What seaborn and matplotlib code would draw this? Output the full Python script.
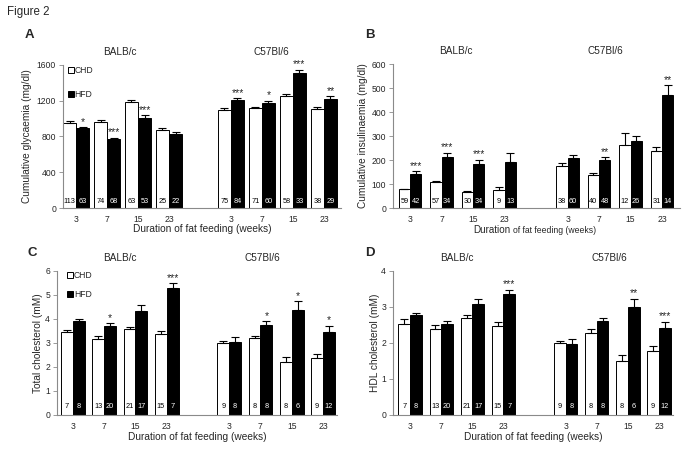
import matplotlib
matplotlib.use("Agg")
import matplotlib.pyplot as plt
import matplotlib.transforms as mtrans
from matplotlib.lines import Line2D
import seaborn as sns
import pandas as pd
import numpy as np

# ---------------- data ----------------
weeks = ["3", "7", "15", "23"]
strains = ["BALB/c", "C57Bl/6"]
diets = ["CHD", "HFD"]

# Panel A - cumulative glycaemia
glyc_chd = [955, 965, 1190, 870, 1100, 1120, 1255, 1110]
glyc_chd_err = [15, 15, 20, 25, 15, 10, 20, 25]
glyc_hfd = [890, 770, 1010, 830, 1210, 1175, 1510, 1215]
glyc_hfd_err = [15, 15, 25, 20, 20, 25, 35, 35]
glyc_n_chd = [113, 74, 63, 25, 75, 71, 58, 38]
glyc_n_hfd = [63, 68, 53, 22, 84, 60, 33, 29]
glyc_sig = ["*", "***", "***", "", "***", "*", "***", "**"]

# Panel B - cumulative insulinaemia
ins_chd = [78, 107, 65, 74, 176, 136, 264, 236]
ins_chd_err = [3, 4, 5, 12, 12, 10, 48, 20]
ins_hfd = [143, 212, 183, 190, 207, 199, 278, 469]
ins_hfd_err = [10, 18, 18, 38, 13, 13, 23, 42]
ins_n_chd = [59, 57, 30, 9, 38, 40, 12, 31]
ins_n_hfd = [42, 34, 34, 13, 60, 48, 26, 14]
ins_sig = ["***", "***", "***", "", "", "**", "", "**"]

# Panel C - total cholesterol
tc_chd = [3.44, 3.17, 3.58, 3.37, 2.99, 3.20, 2.22, 2.39]
tc_chd_err = [0.12, 0.13, 0.08, 0.11, 0.10, 0.08, 0.18, 0.14]
tc_hfd = [3.92, 3.72, 4.35, 5.28, 3.06, 3.76, 4.37, 3.47]
tc_hfd_err = [0.10, 0.10, 0.22, 0.20, 0.20, 0.15, 0.37, 0.24]
chol_n_chd = [7, 13, 21, 15, 9, 8, 8, 9]
chol_n_hfd = [8, 20, 17, 7, 8, 8, 6, 12]
tc_sig = ["", "*", "", "***", "", "*", "*", "*"]

# Panel D - HDL cholesterol
hdl_chd = [2.52, 2.39, 2.70, 2.48, 2.00, 2.29, 1.51, 1.78]
hdl_chd_err = [0.14, 0.10, 0.08, 0.09, 0.06, 0.09, 0.16, 0.14]
hdl_hfd = [2.77, 2.52, 3.08, 3.37, 1.98, 2.61, 3.01, 2.43]
hdl_hfd_err = [0.07, 0.08, 0.15, 0.11, 0.14, 0.08, 0.22, 0.16]
hdl_sig = ["", "", "", "***", "", "", "**", "***"]

# ---------------- style ----------------
sns.set_theme(style="white")
plt.rcParams["font.family"] = ["Liberation Sans", "DejaVu Sans"]
SPINE = "#8a8a8a"

fig = plt.figure(figsize=(6.83, 4.5), dpi=100)

slots = [f"{s} {w}" for s in strains for w in weeks]
order = slots[:4] + ["gap"] + slots[4:]
slot_pos = [order.index(s) for s in slots]


def panel(rect, chd, chd_err, hfd, hfd_err, n_chd, n_hfd, sig, ylim, yticks,
          xlim, width, ylabel, ylab_x, strain_x, legend=None, nlab_y=0.045):
    ax = fig.add_axes(rect)
    df = pd.DataFrame({
        "slot": slots * 2,
        "diet": ["CHD"] * 8 + ["HFD"] * 8,
        "value": list(chd) + list(hfd),
    })
    sns.barplot(data=df, x="slot", y="value", hue="diet", order=order,
                hue_order=diets, palette={"CHD": "white", "HFD": "black"},
                edgecolor="black", linewidth=0.7, width=width, errorbar=None,
                saturation=1, legend=False, ax=ax)
    pos = np.array(slot_pos, dtype=float)
    xc = pos - width / 4
    xh = pos + width / 4
    z = np.zeros(8)
    ax.errorbar(xc, chd, yerr=[z, chd_err], fmt="none", ecolor="black",
                elinewidth=0.8, capsize=3, capthick=0.8)
    ax.errorbar(xh, hfd, yerr=[z, hfd_err], fmt="none", ecolor="black",
                elinewidth=0.8, capsize=3, capthick=0.8)
    bt = mtrans.blended_transform_factory(ax.transData, ax.transAxes)
    for i in range(8):
        ax.text(xc[i], nlab_y, str(n_chd[i]), transform=bt, ha="center",
                va="center", fontsize=5.3, color="black")
        ax.text(xh[i], nlab_y, str(n_hfd[i]), transform=bt, ha="center",
                va="center", fontsize=5.3, color="white")
        if sig[i]:
            ax.annotate(sig[i], xy=(xh[i], hfd[i] + hfd_err[i]),
                        xytext=(0, 0.3), textcoords="offset points",
                        ha="center", va="bottom", fontsize=7.5)
    for s, x in zip(strains, strain_x):
        ax.text(x, 1.09, s, transform=bt, ha="center", va="center",
                fontsize=7.2)
    ax.set_ylim(*ylim)
    ax.set_yticks(yticks)
    ax.set_xlim(*xlim)
    ax.set_xticks(range(len(order)))
    ax.set_xticklabels(weeks + [""] + weeks)
    ax.tick_params(axis="x", length=0, labelsize=6.2, pad=5)
    ax.tick_params(axis="y", length=3, width=0.6, color=SPINE, labelsize=6.2,
                   pad=2, left=True)
    for side in ("top", "right"):
        ax.spines[side].set_visible(False)
    for side in ("left", "bottom"):
        ax.spines[side].set_color(SPINE)
        ax.spines[side].set_linewidth(0.8)
    ax.set_ylabel(ylabel, fontsize=7.3)
    ax.yaxis.set_label_coords(ylab_x, 0.5)
    ax.set_xlabel("")
    if legend is not None:
        h = [Line2D([], [], marker="s", linestyle="", markersize=4.5,
                    markerfacecolor=c, markeredgecolor="black",
                    markeredgewidth=0.7) for c in ("white", "black")]
        ax.legend(h, diets, loc="upper left", bbox_to_anchor=legend[0],
                  frameon=False, fontsize=6.2, handlelength=0.5,
                  handletextpad=0.15, labelspacing=legend[1], borderpad=0,
                  borderaxespad=0)
    return ax


axA = panel([63 / 683, 1 - 208 / 450, 278 / 683, 143 / 450],
            glyc_chd, glyc_chd_err, glyc_hfd, glyc_hfd_err,
            glyc_n_chd, glyc_n_hfd, glyc_sig, (0, 1600), [0, 400, 800, 1200, 1600],
            (-0.42, 8.55), 0.84, "Cumulative glycaemia (mg/dl)", -0.11,
            (1.42, 6.3), legend=((0.02, 0.99), 1.7))
axA.set_xlabel("Duration of fat feeding (weeks)", fontsize=7.3)
axA.xaxis.set_label_coords(0.5, -0.115)

axB = panel([393 / 683, 1 - 208 / 450, 287 / 683, 144 / 450],
            ins_chd, ins_chd_err, ins_hfd, ins_hfd_err,
            ins_n_chd, ins_n_hfd, ins_sig, (0, 600), list(range(0, 601, 100)),
            (-0.54, 8.57), 0.72, "Cumulative insulinaemia (mg/dl)", -0.087,
            (1.46, 6.2))
fig.text(510 / 683, 1 - 233.5 / 450, "Duration", ha="right", va="baseline",
         fontsize=7.1)
fig.text(513 / 683, 1 - 233.5 / 450, "of fat feeding (weeks)", ha="left",
         va="baseline", fontsize=6.2)

axC = panel([57 / 683, 1 - 415 / 450, 280 / 683, 144 / 450],
            tc_chd, tc_chd_err, tc_hfd, tc_hfd_err,
            chol_n_chd, chol_n_hfd, tc_sig, (0, 6), list(range(0, 7)),
            (-0.51, 8.45), 0.76, "Total cholesterol (mM)", -0.05,
            (1.5, 6.05), legend=((0.04, 1.0), 1.15), nlab_y=0.056)
axC.set_xlabel("Duration of fat feeding (weeks)", fontsize=7.3)
axC.xaxis.set_label_coords(0.5, -0.12)

axD = panel([393 / 683, 1 - 415 / 450, 280 / 683, 144 / 450],
            hdl_chd, hdl_chd_err, hdl_hfd, hdl_hfd_err,
            chol_n_chd, chol_n_hfd, hdl_sig, (0, 4), list(range(0, 5)),
            (-0.55, 8.45), 0.75, "HDL cholesterol (mM)", -0.046,
            (1.5, 6.4), nlab_y=0.056)
axD.set_xlabel("Duration of fat feeding (weeks)", fontsize=7.3)
axD.xaxis.set_label_coords(0.5, -0.12)

fig.text(7 / 683, 1 - 12 / 450, "Figure 2", ha="left", va="center", fontsize=8.3)
for lab, x, y in [("A", 25, 35), ("B", 365, 35), ("C", 27, 253), ("D", 365, 253)]:
    fig.text(x / 683, 1 - y / 450, lab, ha="left", va="center", fontsize=9.5,
             fontweight="bold")

fig.savefig("out.png", dpi=100)
